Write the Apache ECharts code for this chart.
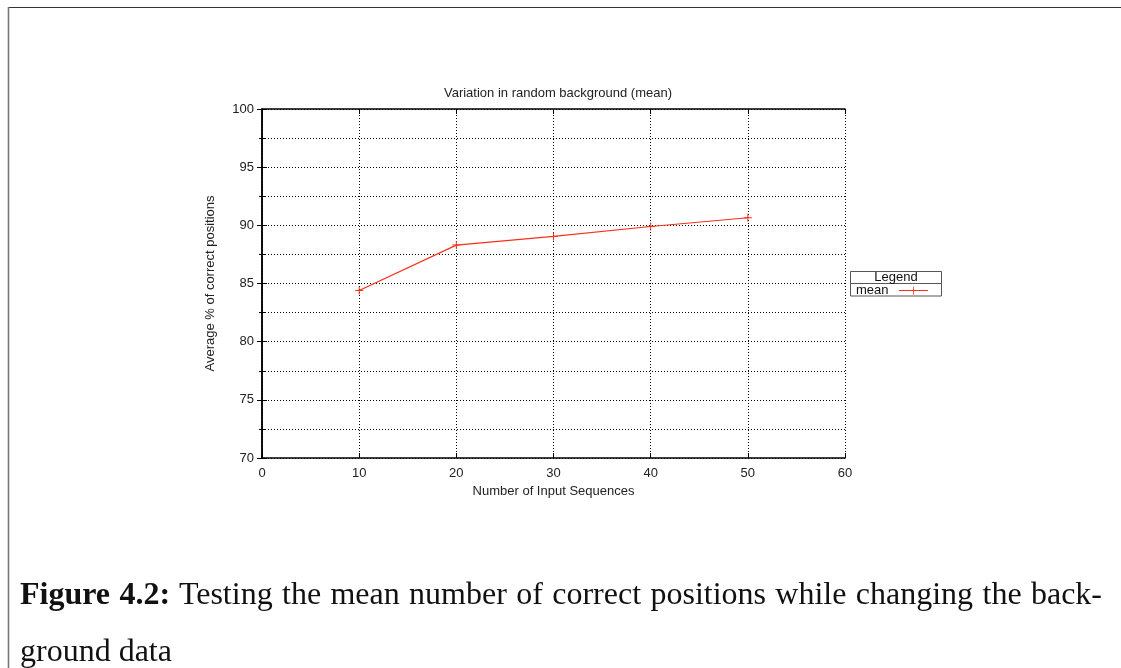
<!DOCTYPE html>
<html>
<head>
<meta charset="utf-8">
<script src="https://cdn.jsdelivr.net/npm/echarts@6/dist/echarts.min.js"></script>
<style>
  html, body { margin: 0; padding: 0; background: #fff; }
  #chart { position: absolute; left: 0; top: 0; width: 1121px; height: 668px; }
  #caption {
    position: absolute; left: 20px; top: 565px; width: 1082px;
    font-family: 'Liberation Serif', 'Times New Roman', serif;
    font-size: 32px; line-height: 57px; color: #111;
  }
  #caption .l1 { display: block; text-align: justify; text-align-last: justify; white-space: nowrap; }
  #caption .l2 { display: block; }
</style>
</head>
<body>
<div id="chart"></div>
<div id="caption">
  <span class="l1"><b>Figure 4.2:</b> Testing the mean number of correct positions while changing the back-</span>
  <span class="l2">ground data</span>
</div>
<script>
// Number of input sequences and mean % of correct positions
const sequences = [10, 20, 30, 40, 50];
const meanCorrect = [84.4, 88.3, 89.05, 89.9, 90.65];
const xTicks = [0, 10, 20, 30, 40, 50, 60];
const yTicks = [70, 75, 80, 85, 90, 95, 100];

const RED = '#f5311c';
const FONT = "'Liberation Sans', Arial, Helvetica, sans-serif";
const dotted = { color: '#000', width: 1, type: [1, 2] };

const chart = echarts.init(document.getElementById('chart'), null, { renderer: 'canvas' });

const crossPath = 'path://M0,3.5H8V4.5H0Z M3.5,0H4.5V8H3.5Z';

const xBase = {
  type: 'value',
  min: xTicks[0], max: xTicks[xTicks.length - 1], interval: 10,
  axisLine: { show: true, lineStyle: { color: '#000', width: 1.5 } },
  axisTick: { show: true, inside: true, length: 5, lineStyle: { color: '#000', width: 1 } }
};
const yBase = {
  type: 'value',
  min: yTicks[0], max: yTicks[yTicks.length - 1], interval: 5,
  axisLine: { show: true, lineStyle: { color: '#000', width: 1.5 } },
  axisTick: { show: true, inside: true, length: 5, lineStyle: { color: '#000', width: 1 } },
  minorTick: { show: true, splitNumber: 2, length: 3, lineStyle: { color: '#000', width: 1 } }
};

chart.setOption({
  animation: false,
  backgroundColor: '#fff',
  title: {
    text: 'Variation in random background (mean)',
    left: 553, top: 82, textAlign: 'center',
    textStyle: { fontFamily: FONT, fontSize: 13, fontWeight: 'normal', color: '#222' }
  },
  grid: { left: 262, top: 109, width: 583, height: 349, containLabel: false },
  legend: {
    data: ['mean'],
    left: 856, top: 284,
    orient: 'vertical',
    align: 'right',
    itemWidth: 36, itemHeight: 8, itemGap: 4,
    padding: 0,
    icon: 'path://M0,4.5H36V5.5H0Z M17.5,0H18.5V10H17.5Z',
    itemStyle: { color: RED, borderWidth: 0 },
    lineStyle: { width: 0 },
    textStyle: { fontFamily: FONT, fontSize: 13, color: '#111', padding: [0, 2, 0, 0] },
    selectedMode: false
  },
  xAxis: [
    Object.assign({}, xBase, {
      position: 'bottom',
      name: 'Number of Input Sequences',
      nameLocation: 'middle', nameGap: 33,
      nameTextStyle: { fontFamily: FONT, fontSize: 13, color: '#222', verticalAlign: 'middle' },
      axisLabel: { show: true, margin: 9, fontFamily: FONT, fontSize: 13, color: '#222' },
      splitLine: { show: true, lineStyle: dotted }
    }),
    Object.assign({}, xBase, {
      position: 'top',
      axisLabel: { show: false },
      splitLine: { show: false }
    })
  ],
  yAxis: [
    Object.assign({}, yBase, {
      position: 'left',
      name: 'Average % of correct positions',
      nameLocation: 'middle', nameGap: 52, nameRotate: 90,
      nameTextStyle: { fontFamily: FONT, fontSize: 13, color: '#222', verticalAlign: 'middle' },
      axisLabel: { show: true, margin: 8, fontFamily: FONT, fontSize: 13, color: '#222' },
      splitLine: { show: true, lineStyle: dotted },
      minorSplitLine: { show: true, lineStyle: dotted }
    }),
    Object.assign({}, yBase, {
      position: 'right',
      axisLabel: { show: false },
      splitLine: { show: false },
      minorSplitLine: { show: false }
    })
  ],
  series: [{
    name: 'mean',
    type: 'line',
    xAxisIndex: 0, yAxisIndex: 0,
    data: sequences.map((s, i) => [s, meanCorrect[i]]),
    symbol: crossPath,
    symbolSize: 8,
    showAllSymbol: true,
    color: RED,
    itemStyle: { color: RED, borderWidth: 0 },
    lineStyle: { color: RED, width: 1.2 },
    z: 5
  }],
  graphic: [
    // page frame
    { type: 'line', shape: { x1: 8, y1: 7.5, x2: 1121, y2: 7.5 }, style: { stroke: '#333', lineWidth: 1.2 }, silent: true },
    { type: 'line', shape: { x1: 8.5, y1: 7, x2: 8.5, y2: 668 }, style: { stroke: '#777', lineWidth: 1.6 }, silent: true },
    // legend box with header row
    { type: 'rect', shape: { x: 850.5, y: 271.5, width: 91, height: 24.5 }, style: { fill: 'none', stroke: '#555', lineWidth: 1 }, silent: true, z: 1 },
    { type: 'line', shape: { x1: 850.5, y1: 283.5, x2: 941.5, y2: 283.5 }, style: { stroke: '#555', lineWidth: 1 }, silent: true },
    { type: 'text', style: { text: 'Legend', x: 896, y: 277.5, align: 'center', verticalAlign: 'middle', font: "13px 'Liberation Sans', Arial, sans-serif", fill: '#111' }, silent: true }
  ]
});
</script>
</body>
</html>
